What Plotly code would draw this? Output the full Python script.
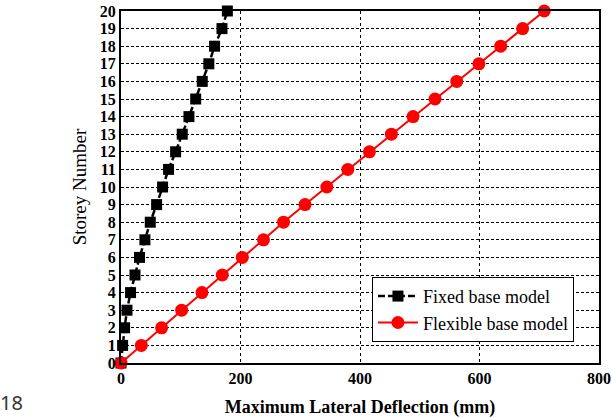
import plotly.graph_objects as go

storey = list(range(0, 21))
fixed_defl = [0, 2.7, 6, 10, 16, 23.4, 31, 40, 49, 59.6, 69.6, 79.6, 91.4, 102.5, 113.7, 125, 136, 147, 156.6, 169, 178]
flex_defl = [0, 34, 68, 101.5, 135.5, 169.5, 203, 238.5, 272, 308, 344.5, 379.6, 415.8, 452.5, 488.8, 525.6, 561.9, 599, 635.5, 672.2, 708.4]
x_ticks = [0, 200, 400, 600, 800]

serif = "Liberation Serif, Times New Roman, serif"

fig = go.Figure()
fig.add_trace(go.Scatter(
    x=fixed_defl, y=storey, mode="lines+markers", name="Fixed base model",
    line=dict(color="black", width=2.5, dash="7px,3px"),
    marker=dict(symbol="square", size=11, color="black"),
    cliponaxis=False,
))
fig.add_trace(go.Scatter(
    x=flex_defl, y=storey, mode="lines+markers", name="Flexible base model",
    line=dict(color="red", width=2),
    marker=dict(symbol="circle", size=13, color="red"),
    cliponaxis=False,
))

fig.update_layout(
    width=612, height=418,
    margin=dict(l=121, r=13, t=11, b=55),
    paper_bgcolor="white", plot_bgcolor="white",
    font=dict(family=serif, color="black"),
    showlegend=True,
    legend=dict(
        x=0.525, y=0.06, xanchor="left", yanchor="bottom",
        bgcolor="white", bordercolor="black", borderwidth=1,
        font=dict(family=serif, size=18, color="black"),
        tracegroupgap=0, itemwidth=40,
    ),
    xaxis=dict(
        range=[0, 800], tickvals=x_ticks, ticktext=[str(v) for v in x_ticks],
        showline=True, linecolor="black", linewidth=2, mirror=True,
        showgrid=True, gridcolor="black", gridwidth=1, griddash="dot",
        zeroline=False, automargin=False,
        tickfont=dict(family=serif, size=16, color="black", weight="bold"),
        title=dict(text="Maximum Lateral Deflection (mm)", standoff=16,
                   font=dict(family=serif, size=18, color="black", weight="bold")),
        ticks="",
    ),
    yaxis=dict(
        range=[0, 20], tickvals=storey, ticktext=[str(v) for v in storey],
        showline=True, linecolor="black", linewidth=2, mirror=True,
        showgrid=True, gridcolor="black", gridwidth=1, griddash="3px,2px",
        zeroline=False, automargin=False,
        tickfont=dict(family=serif, size=16, color="black", weight="bold"),
        title=dict(text="Storey Number", standoff=8,
                   font=dict(family=serif, size=19, color="black")),
        ticks="",
    ),
    annotations=[dict(
        text="18", x=0, y=0, xref="paper", yref="paper", xanchor="left", yanchor="bottom",
        xshift=-123, yshift=-55, showarrow=False,
        font=dict(family="Noto Sans, sans-serif", size=20, color="#333333"),
    )],
)

fig.write_html("out.html")
